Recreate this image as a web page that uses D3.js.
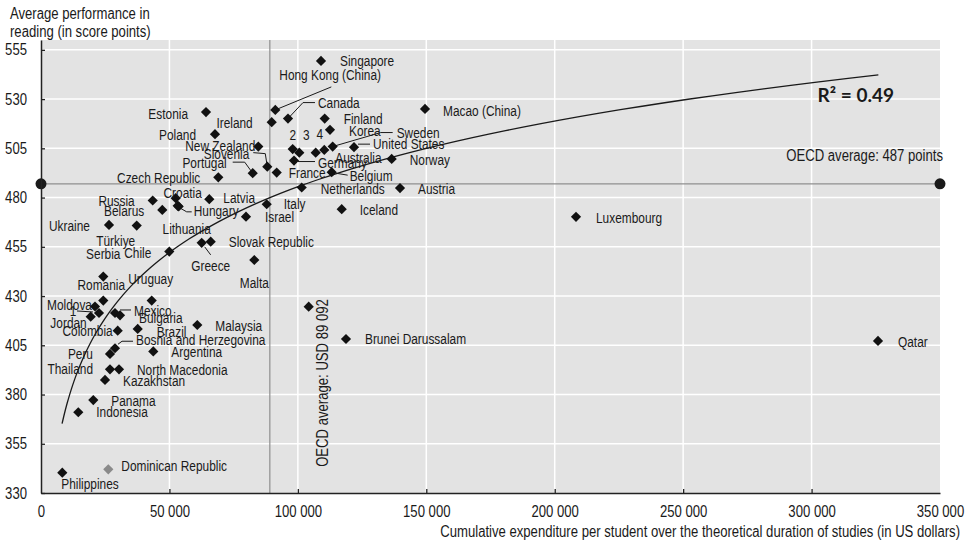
<!DOCTYPE html>
<html>
<head>
<meta charset="utf-8">
<script src="https://cdn.jsdelivr.net/npm/d3@7"></script>
<style>
  body { margin: 0; background: #fff; }
  svg text { font-family: "Liberation Sans", Arial, sans-serif; fill: #1a1a1a; }
  svg .r2 { font-family: Lato, "Open Sans", sans-serif; font-weight: 700; }
</style>
</head>
<body>
<svg id="chart" width="970" height="543"></svg>
<script>
// Values (expenditure in USD, reading in score points)
const countries = [
  "Singapore", "Hong Kong (China)", "Canada", "Ireland", "Estonia", "Poland",
  "New Zealand", "Slovenia", "Portugal", "France", "Czech Republic", "Germany",
  "2", "3", "4", "Australia", "Sweden", "Korea", "Finland", "United States",
  "Norway", "Belgium", "Netherlands", "Austria", "Iceland", "Italy", "Israel",
  "Latvia", "Macao (China)", "Luxembourg", "Qatar", "Brunei Darussalam", "Malta",
  "Slovak Republic", "Greece", "Chile", "Serbia", "Türkiye", "Ukraine", "Russia",
  "Belarus", "Croatia", "Hungary", "Lithuania", "Romania", "Uruguay", "Moldova",
  "1", "Jordan", "Mexico", "Bulgaria", "Colombia", "Brazil", "Malaysia",
  "Bosnia and Herzegovina", "Peru", "Argentina", "Thailand", "North Macedonia",
  "Kazakhstan", "Panama", "Indonesia", "Philippines", "Dominican Republic", ""
];
const expenditure = [
  109010, 91220, 96160, 89820, 64240, 67740,
  84600, 88100, 82420, 91760, 69030, 98500,
  97990, 100560, 106950, 110290, 113560, 112510, 110450, 121860,
  136530, 113170, 101500, 139770, 117070, 87870, 79810,
  65520, 149500, 208290, 325860, 118740, 83040,
  66070, 62560, 49950, 24250, 37260, 26470, 43490,
  47220, 52440, 53220, 53600, 24250, 43100, 21020,
  22580, 19350, 28810, 30760, 29860, 37650, 60850,
  28810, 26860, 43720, 26860, 30370,
  24920, 20360, 14520, 8290, 26200, 104220
];
const reading = [
  549.4, 524.5, 520.1, 518.3, 523.4, 512.2,
  505.9, 495.7, 492.4, 492.7, 490.3, 498.8,
  504.6, 502.8, 502.8, 504.2, 505.9, 514.4, 520.1, 505.6,
  499.6, 492.9, 485.1, 484.8, 474.1, 476.6, 470.3,
  479.2, 525.0, 470.2, 407.2, 408.2, 448.3,
  457.6, 457.0, 452.6, 439.9, 465.8, 466.1, 478.5,
  473.7, 479.7, 475.8, 475.5, 427.7, 427.7, 424.7,
  421.4, 419.5, 421.4, 420.2, 412.4, 413.3, 415.3,
  403.5, 400.6, 401.9, 392.8, 392.8,
  387.4, 377.2, 371.0, 340.3, 342.0, 424.6
];
const greyCountries = ["Dominican Republic"];

const xTicks = [0, 50000, 100000, 150000, 200000, 250000, 300000, 350000];
const yTicks = [330, 355, 380, 405, 430, 455, 480, 505, 530, 555];

const oecdExpenditure = 89092;
const oecdReading = 487;

// logarithmic trend: reading = a + b * ln(expenditure)
const trendA = -68.3;
const trendB = 48.1;
const trendStart = 8200;
const trendEnd = 326000;
const rSquared = "0.49";

// label placement relative to each marker: [dx, dy, anchor], optional leader line points
const labelLayout = {
  "Singapore": [19, 0], "Hong Kong (China)": [4, -35, "start", [[0, 0], [56, -23]]],
  "Canada": [30, -16, "start", [[0, 0], [15, -16], [27, -16]]],
  "Ireland": [-19, 1, "end"], "Estonia": [-18, 2, "end"], "Poland": [-19, 1, "end"],
  "New Zealand": [-3, -1, "end"],
  "Slovenia": [-18, -13, "end", [[0, 0], [-2, -13], [-14, -14]]],
  "Portugal": [-26, -10, "end", [[0, 0], [-8, -11], [-20, -11]]],
  "France": [12, 0], "Czech Republic": [-18, 1, "end"],
  "Germany": [24, 2, "start", [[4, 1], [21, 1]]],
  "2": [0, -14, "middle"], "3": [7, -18, "middle"], "4": [4, -19, "middle"],
  "Australia": [11, 8], "Sweden": [64, -14, "start", [[0, 0], [48, -14], [60, -14]]],
  "Korea": [19, 1], "Finland": [19, 0],
  "United States": [19, -3, "start", [[4, -3], [16, -3]]],
  "Norway": [18, 1], "Belgium": [18, 4, "start", [[4, 1], [16, 3]]],
  "Netherlands": [19, 1], "Austria": [18, 1], "Iceland": [18, 1],
  "Italy": [17, 0], "Israel": [19, 0], "Latvia": [14, -1],
  "Macao (China)": [18, 2], "Luxembourg": [20, 1], "Qatar": [20, 1],
  "Brunei Darussalam": [19, 0], "Malta": [0, 23, "middle"],
  "Slovak Republic": [18, 0], "Greece": [9, 23, "middle", [[3, 4], [9, 12]]],
  "Chile": [-18, 1, "end"], "Serbia": [0, -23, "middle"], "Türkiye": [-21, 15, "middle"],
  "Ukraine": [-19, 1, "end"], "Russia": [-18, 0, "end"], "Belarus": [-18, 1, "end"],
  "Croatia": [7, -5, "middle"], "Hungary": [16, 5, "start", [[2, 2], [9, 6], [14, 6]]],
  "Lithuania": [8, 22, "middle"],
  "Romania": [-2, -16, "middle"], "Uruguay": [-1, -22, "middle"],
  "Moldova": [-3, -2, "end"], "1": [-26, -2, "middle", [[-22, -2], [-6, -1]]],
  "Jordan": [-4, 6, "end"], "Mexico": [19, -2, "start", [[5, -3], [16, -3]]],
  "Bulgaria": [19, 3], "Colombia": [-5, 0, "end"], "Brazil": [19, 3], "Malaysia": [18, 1],
  "Bosnia and Herzegovina": [21, -8, "start", [[3, -4], [7, -7], [18, -7]]],
  "Peru": [-17, 0, "end"], "Argentina": [18, 1], "Thailand": [-17, 0, "end"],
  "North Macedonia": [18, 1], "Kazakhstan": [18, 1], "Panama": [18, 1],
  "Indonesia": [18, 0], "Philippines": [-1, 11], "Dominican Republic": [13, -3]
};

// no narrow font installed, so squeeze regular sans text horizontally
const NARROW = 0.82;
function narrow(sel) {
  sel.each(function() {
    const t = d3.select(this);
    const x = +t.attr("x") || 0, y = +t.attr("y") || 0;
    t.attr("x", 0).attr("y", 0)
      .attr("transform", `translate(${x},${y}) scale(${NARROW},1)`);
  });
}

class ScatterChart {
  constructor(_config) {
    this.config = {
      parentElement: _config.parentElement,
      containerWidth: 970,
      containerHeight: 543,
      margin: { top: 40, bottom: 50, right: 30, left: 41 }
    };
    this.data = _config.data;
    this.initVis();
  }

  initVis() {
    let vis = this;
    const m = vis.config.margin;
    vis.width = vis.config.containerWidth - m.left - m.right;
    vis.height = vis.config.containerHeight - m.top - m.bottom;

    vis.xScale = d3.scaleLinear().domain([0, 350000]).range([0, vis.width]);
    vis.yScale = d3.scaleLinear().domain([330, 560]).range([vis.height, 0]);

    vis.svg = d3.select(vis.config.parentElement);
    vis.chart = vis.svg.append("g")
      .attr("transform", `translate(${m.left},${m.top})`);

    // grey plot area with white grid
    vis.chart.append("rect")
      .attr("width", vis.width)
      .attr("height", vis.height)
      .attr("fill", "#e3e3e3");

    vis.chart.append("g").selectAll("line")
      .data(xTicks.slice(1, -1))
      .join("line")
        .attr("x1", d => vis.xScale(d)).attr("x2", d => vis.xScale(d))
        .attr("y1", 0).attr("y2", vis.height)
        .attr("stroke", "#fff").attr("stroke-width", 1.5);

    vis.chart.append("g").selectAll("line")
      .data(yTicks.slice(1))
      .join("line")
        .attr("x1", 0).attr("x2", vis.width)
        .attr("y1", d => vis.yScale(d)).attr("y2", d => vis.yScale(d))
        .attr("stroke", "#fff").attr("stroke-width", 1.5);

    vis.render();
  }

  render() {
    let vis = this;
    const fmt = d => d3.format(",")(d).replace(/,/g, " ");

    // OECD average lines
    vis.chart.append("line")
      .attr("x1", vis.xScale(oecdExpenditure)).attr("x2", vis.xScale(oecdExpenditure))
      .attr("y1", 0).attr("y2", vis.height)
      .attr("stroke", "#8f8f8f").attr("stroke-width", 1.2);
    vis.chart.append("line")
      .attr("x1", 0).attr("x2", vis.width)
      .attr("y1", vis.yScale(oecdReading)).attr("y2", vis.yScale(oecdReading))
      .attr("stroke", "#8f8f8f").attr("stroke-width", 1.2);

    vis.chart.append("text")
      .attr("x", vis.width + 3)
      .attr("y", vis.yScale(oecdReading) - 28)
      .attr("dy", "0.35em")
      .attr("text-anchor", "end")
      .attr("font-size", 16)
      .text(`OECD average: ${oecdReading} points`)
      .call(narrow);

    vis.chart.append("text")
      .attr("transform", `translate(${vis.xScale(oecdExpenditure) + 53},${vis.height - 110}) rotate(-90) scale(${NARROW},1)`)
      .attr("dy", "0.35em")
      .attr("text-anchor", "middle")
      .attr("font-size", 16)
      .text(`OECD average: USD ${fmt(oecdExpenditure)}`);

    // trend curve
    const trendX = d3.range(0, 101).map(i => trendStart * Math.pow(trendEnd / trendStart, i / 100));
    vis.chart.append("path")
      .datum(trendX)
      .attr("fill", "none")
      .attr("stroke", "#1a1a1a")
      .attr("stroke-width", 1.3)
      .attr("d", d3.line()
        .x(d => vis.xScale(d))
        .y(d => vis.yScale(trendA + trendB * Math.log(d))));

    vis.chart.append("text")
      .attr("class", "r2")
      .attr("x", vis.xScale(300000) + 6)
      .attr("y", vis.yScale(530) - 4)
      .attr("dy", "0.35em")
      .attr("font-size", 19)
      .text(`R² = ${rSquared}`);

    // leader lines
    vis.chart.append("g").selectAll("polyline")
      .data(vis.data.filter(d => labelLayout[d.name] && labelLayout[d.name][3]))
      .join("polyline")
        .attr("fill", "none")
        .attr("stroke", "#1a1a1a")
        .attr("stroke-width", 1)
        .attr("points", d => labelLayout[d.name][3]
          .map(p => [vis.xScale(d.x) + p[0], vis.yScale(d.y) + p[1]].join(",")).join(" "));

    // markers
    vis.chart.append("g").selectAll("path")
      .data(vis.data)
      .join("path")
        .attr("d", d3.symbol(d3.symbolSquare, 52))
        .attr("transform", d => `translate(${vis.xScale(d.x)},${vis.yScale(d.y)}) rotate(45)`)
        .attr("fill", d => greyCountries.includes(d.name) ? "#8a8a8a" : "#111");

    // country labels
    vis.chart.append("g").selectAll("text")
      .data(vis.data.filter(d => d.name !== ""))
      .join("text")
        .attr("x", d => vis.xScale(d.x) + labelLayout[d.name][0])
        .attr("y", d => vis.yScale(d.y) + labelLayout[d.name][1])
        .attr("dy", "0.35em")
        .attr("text-anchor", d => labelLayout[d.name][2] || "start")
        .attr("font-size", 14.5)
        .text(d => d.name)
        .call(narrow);

    // markers at the ends of the OECD reading line
    vis.chart.append("g").selectAll("circle")
      .data([0, 350000])
      .join("circle")
        .attr("cx", d => vis.xScale(d))
        .attr("cy", vis.yScale(oecdReading))
        .attr("r", 5.5)
        .attr("fill", "#1a1a1a");

    // axes
    vis.yAxis = d3.axisLeft(vis.yScale).tickValues(yTicks).tickSize(-4).tickSizeOuter(0).tickPadding(14);
    vis.yAxisG = vis.chart.append("g").call(vis.yAxis);
    vis.xAxis = d3.axisBottom(vis.xScale).tickValues(xTicks).tickSize(-4).tickSizeOuter(0).tickPadding(13).tickFormat(fmt);
    vis.xAxisG = vis.chart.append("g")
      .attr("transform", `translate(0,${vis.height})`)
      .call(vis.xAxis);

    [vis.yAxisG, vis.xAxisG].forEach(g => {
      g.select(".domain").attr("stroke", "#222").attr("stroke-width", 1.5);
      g.selectAll(".tick line").attr("stroke", "#222").attr("stroke-width", 1.3);
      g.selectAll(".tick text").attr("font-size", 16).attr("font-family", null).attr("fill", "#1a1a1a").call(narrow);
    });
    vis.xAxisG.selectAll(".tick").filter(d => d === 0 || d === 350000).select("line").remove();

    // axis titles
    vis.svg.append("text")
      .attr("x", 10).attr("y", 19)
      .attr("font-size", 16)
      .text("Average performance in")
      .call(narrow);
    vis.svg.append("text")
      .attr("x", 10).attr("y", 37)
      .attr("font-size", 16)
      .text("reading (in score points)")
      .call(narrow);
    vis.svg.append("text")
      .attr("x", 960).attr("y", 537)
      .attr("text-anchor", "end")
      .attr("font-size", 16)
      .text("Cumulative expenditure per student over the theoretical duration of studies (in US dollars)")
      .call(narrow);
  }
}

const points = countries.map((c, i) => ({ name: c, x: expenditure[i], y: reading[i] }));
new ScatterChart({ parentElement: "#chart", data: points });
</script>
</body>
</html>
